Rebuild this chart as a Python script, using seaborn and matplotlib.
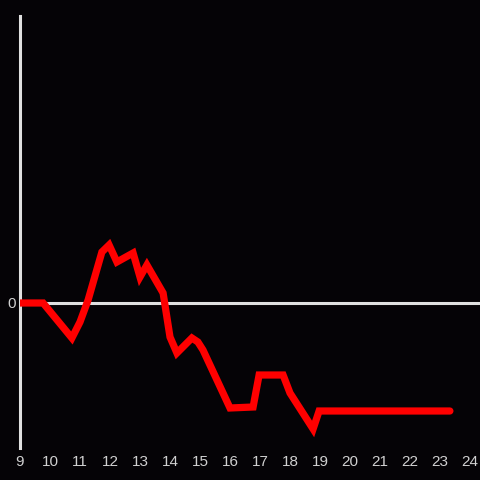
import pandas as pd
import seaborn as sns
import matplotlib.pyplot as plt

# readings taken off the chart
hours = [9.0, 9.77, 10.73, 11.0, 11.27, 11.73, 11.97, 12.23, 12.77, 13.0, 13.23,
         13.77, 14.0, 14.23, 14.73, 14.93, 15.1, 16.0, 16.77, 16.97, 17.77, 18.0,
         18.77, 18.97, 23.33]
values = [0.0, 0.0, -3.5, -1.9, 0.3, 5.1, 5.8, 4.1, 5.0, 2.6, 3.8,
          1.0, -3.4, -5.0, -3.5, -3.9, -4.7, -10.5, -10.4, -7.2, -7.2, -9.0,
          -12.6, -10.8, -10.8]
xticks = list(range(9, 25))

data = pd.DataFrame({"hour": hours, "value": values})

sns.set_style("dark")
plt.rcParams["font.family"] = ["Liberation Sans", "DejaVu Sans"]

bg = "#050306"
fig = plt.figure(figsize=(4.8, 4.8), dpi=100, facecolor=bg)
ax = fig.add_axes([20 / 480, 32 / 480, 460 / 480, 432 / 480])
ax.set_facecolor(bg)

ax.axhline(0, color="#e0e0e0", lw=2.2, zorder=1)
sns.lineplot(data=data, x="hour", y="value", ax=ax, color="#ff0000", lw=5.2,
             solid_joinstyle="miter", zorder=3)

ax.set_xlim(9, 9 + 460 / 30)
ax.set_ylim(-14.5, 28.7)
ax.set_xticks(xticks)
ax.set_yticks([0])
ax.set_xlabel("")
ax.set_ylabel("")
ax.grid(False)
ax.tick_params(colors="#d0d0d0", labelsize=11, length=0)
ax.tick_params(axis="y", pad=3)
ax.tick_params(axis="x", pad=5)
for s in ["top", "right", "bottom"]:
    ax.spines[s].set_visible(False)
ax.spines["left"].set_color("#e0e0e0")
ax.spines["left"].set_linewidth(2.2)

fig.savefig("out.png", dpi=100, facecolor=bg)
